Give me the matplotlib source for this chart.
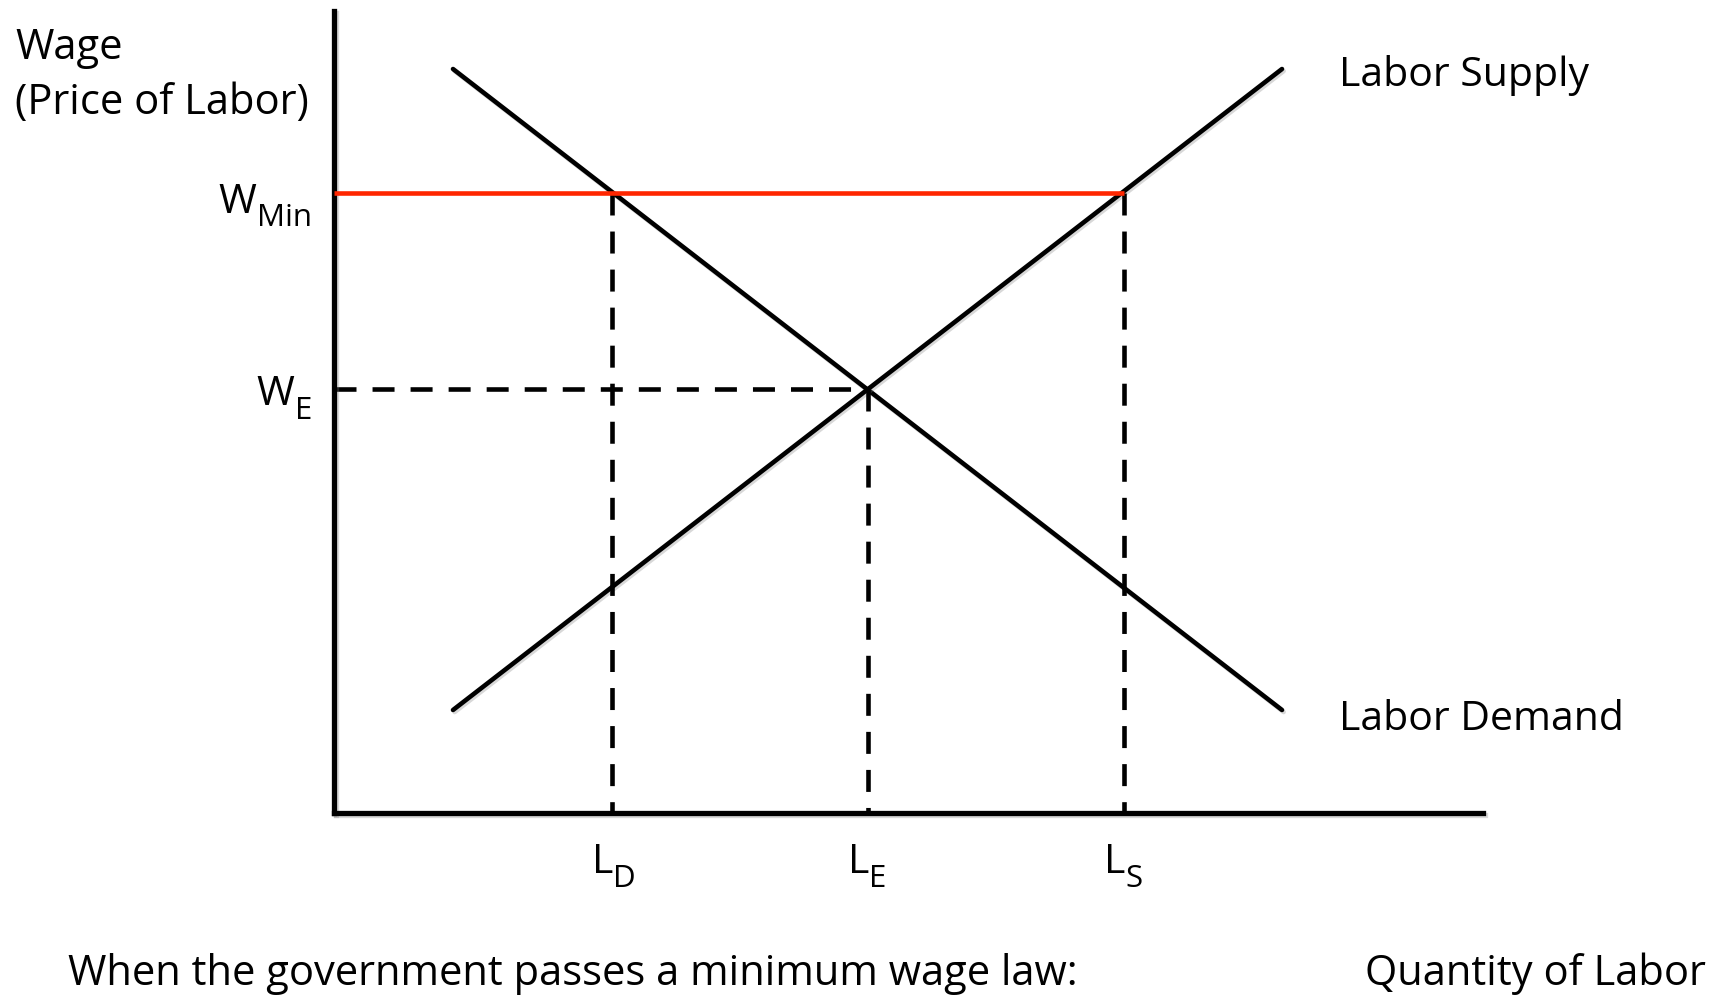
import matplotlib
matplotlib.use("Agg")
import matplotlib.pyplot as plt
import matplotlib.patheffects as pe

plt.rcParams['font.family'] = ['Open Sans', 'DejaVu Sans']

# labour market: straight-line supply and demand, quantity vs wage
demand_q = [1.19, 9.48]
demand_w = [7.44, 1.03]
supply_q = [1.19, 9.48]
supply_w = [1.03, 7.44]

w_min = 6.20
w_eq = 4.24
l_d = 2.78
l_e = 5.34
l_s = 7.90

q_marks = [l_d, l_e, l_s]
q_subs = ['D', 'E', 'S']

fig = plt.figure(figsize=(17.18, 9.98), dpi=100)
ax = fig.add_axes([334 / 1718, 185 / 998, 1149 / 1718, 802 / 998])
ax.set_xlim(0, 11.49)
ax.set_ylim(0, 8.02)
for side in ['top', 'right']:
    ax.spines[side].set_visible(False)
shadow = [pe.SimpleLineShadow(offset=(1.2, -1.5), shadow_color='gray', alpha=0.3), pe.Normal()]
for side in ['left', 'bottom']:
    ax.spines[side].set_linewidth(3.8)
    ax.spines[side].set_capstyle('projecting')
    ax.spines[side].set_path_effects(shadow)
ax.set_xticks([])
ax.set_yticks([])

lw = 3.3
ax.plot(demand_q, demand_w, color='black', lw=lw, solid_capstyle='round', path_effects=shadow)
ax.plot(supply_q, supply_w, color='black', lw=lw, solid_capstyle='round', path_effects=shadow)

dash = (4.8, 3.5)
ax.plot([0, l_e], [w_eq, w_eq], color='black', lw=lw, dashes=dash, dash_capstyle='butt')
for q in [l_d, l_s]:
    ax.plot([q, q], [w_min, 0], color='black', lw=lw, dashes=dash, dash_capstyle='butt')
ax.plot([l_e, l_e], [w_eq, 0], color='black', lw=lw, dashes=dash, dash_capstyle='butt')

# minimum wage floor
ax.plot([0, l_s], [w_min, w_min], color='#ff2600', lw=3.3, solid_capstyle='butt', zorder=3)

big = 29.5
small = 22.5

# quantity labels: L with subscript, L ends at the mark
for q, s in zip(q_marks, q_subs):
    base = ax.text(q + 0.01, -0.60, 'L', ha='right', va='baseline', fontsize=big, clip_on=False)
    ax.annotate(s, xy=(1, -0.74), xycoords=(base, 'data'), ha='left', va='baseline',
                fontsize=small, annotation_clip=False)

# wage labels: subscript right-aligned to the axis, W placed before it
for w, s, sub_y in [(6.00, 'Min', 5.87), (4.08, 'E', 3.94)]:
    sub = ax.text(-0.22, sub_y, s, ha='right', va='baseline', fontsize=small, clip_on=False)
    ax.annotate('W', xy=(0, w), xycoords=(sub, 'data'), xytext=(-0.5, 0), textcoords='offset points',
                ha='right', va='baseline', fontsize=big, annotation_clip=False)

ax.text(-3.19, 7.54, 'Wage', ha='left', va='baseline', fontsize=30, clip_on=False)
ax.text(-3.19, 6.99, '(Price of Labor)', ha='left', va='baseline', fontsize=30, clip_on=False)

ax.text(10.05, 7.27, 'Labor Supply', ha='left', va='baseline', fontsize=big, clip_on=False)
ax.text(10.05, 0.83, 'Labor Demand', ha='left', va='baseline', fontsize=big, clip_on=False)

ax.text(-2.66, -1.72, 'When the government passes a minimum wage law:', ha='left', va='baseline',
        fontsize=30, clip_on=False)
ax.text(13.72, -1.72, 'Quantity of Labor', ha='right', va='baseline', fontsize=30, clip_on=False)

fig.savefig('out.png', dpi=100)
